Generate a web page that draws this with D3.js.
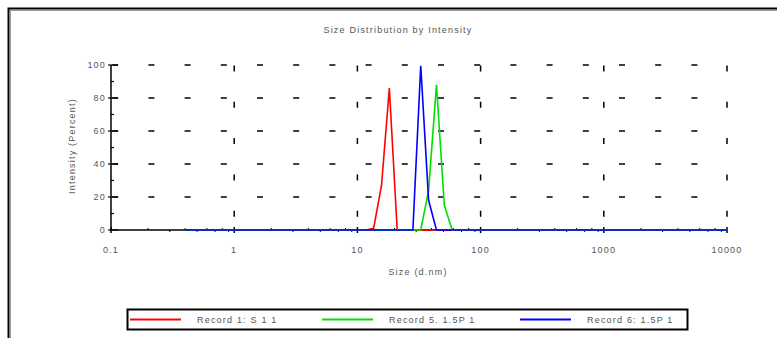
<!DOCTYPE html>
<html>
<head>
<meta charset="utf-8">
<script src="https://cdn.jsdelivr.net/npm/d3@7/dist/d3.min.js"></script>
<style>
  body { margin: 0; background: #fff; }
  text { font-family: "Liberation Sans", Arial, sans-serif; font-size: 9px; fill: #555; letter-spacing: 1.2px; }
</style>
</head>
<body>
<svg id="chart" width="777" height="338"></svg>
<script>
// size classes (d.nm) - standard 70 bins
var sizes = [0.4, 0.4632, 0.5365, 0.6213, 0.7195, 0.8332, 0.9649, 1.117, 1.294, 1.499,
  1.736, 2.01, 2.328, 2.696, 3.122, 3.615, 4.187, 4.849, 5.615, 6.503,
  7.531, 8.721, 10.1, 11.7, 13.54, 15.69, 18.17, 21.04, 24.36, 28.21,
  32.67, 37.84, 43.82, 50.75, 58.77, 68.06, 78.82, 91.28, 105.7, 122.4,
  141.8, 164.2, 190.1, 220.2, 255, 295.3, 342, 396.1, 458.7, 531.2,
  615.1, 712.4, 825, 955.4, 1106, 1281, 1484, 1718, 1990, 2305,
  2669, 3091, 3580, 4145, 4801, 5560, 6439, 7456, 8635, 10000];

// intensity (percent) per bin
var record1 = [0, 0, 0, 0, 0, 0, 0, 0, 0, 0,
  0, 0, 0, 0, 0, 0, 0, 0, 0, 0,
  0, 0, 0, 0, 1, 27, 86, 0, 0, 0,
  0, 0, 0, 0, 0, 0, 0, 0, 0, 0,
  0, 0, 0, 0, 0, 0, 0, 0, 0, 0,
  0, 0, 0, 0, 0, 0, 0, 0, 0, 0,
  0, 0, 0, 0, 0, 0, 0, 0, 0, 0];
var record5 = [0, 0, 0, 0, 0, 0, 0, 0, 0, 0,
  0, 0, 0, 0, 0, 0, 0, 0, 0, 0,
  0, 0, 0, 0, 0, 0, 0, 0, 0, 0,
  0, 24, 88, 15, 0, 0, 0, 0, 0, 0,
  0, 0, 0, 0, 0, 0, 0, 0, 0, 0,
  0, 0, 0, 0, 0, 0, 0, 0, 0, 0,
  0, 0, 0, 0, 0, 0, 0, 0, 0, 0];
var record6 = [0, 0, 0, 0, 0, 0, 0, 0, 0, 0,
  0, 0, 0, 0, 0, 0, 0, 0, 0, 0,
  0, 0, 0, 0, 0, 0, 0, 0, 0, 0,
  99.5, 18, 0, 0, 0, 0, 0, 0, 0, 0,
  0, 0, 0, 0, 0, 0, 0, 0, 0, 0,
  0, 0, 0, 0, 0, 0, 0, 0, 0, 0,
  0, 0, 0, 0, 0, 0, 0, 0, 0, 0];

var seriesNames = ["Record 1: S 1 1", "Record 5. 1.5P 1", "Record 6: 1.5P 1"];
var seriesColors = ["#ff0000", "#00e000", "#0000ff"];
var xTicks = [0.1, 1, 10, 100, 1000, 10000];
var xTickLabels = ["0.1", "1", "10", "100", "1000", "10000"];
var yTicks = [0, 20, 40, 60, 80, 100];

var svg = d3.select("#chart");

// outer frame (runs off the right / bottom edge)
svg.append("rect").attr("x", 8.5).attr("y", 8.5).attr("width", 820).attr("height", 400)
  .attr("fill", "none").attr("stroke", "#000").attr("stroke-width", 2);
svg.append("rect").attr("x", 10.5).attr("y", 10.5).attr("width", 820).attr("height", 400)
  .attr("fill", "none").attr("stroke", "#999").attr("stroke-width", 1);

var margin = {left: 111, top: 65},
    width = 727 - 111,
    height = 230 - 65;

var x = d3.scaleLog().domain([0.1, 10000]).range([0, width]);
var y = d3.scaleLinear().domain([0, 100]).range([height, 0]);

var g = svg.append("g").attr("transform", "translate(" + margin.left + "," + margin.top + ")");

// dashed grid
g.selectAll(".hgrid").data(yTicks.slice(1)).enter().append("line")
  .attr("x1", 0).attr("x2", width)
  .attr("y1", d => y(d)).attr("y2", d => y(d))
  .attr("stroke", "#000").attr("stroke-width", 1.5)
  .attr("stroke-dasharray", "6 30.2").attr("stroke-dashoffset", 35);
g.selectAll(".vgrid").data(xTicks.slice(1)).enter().append("line")
  .attr("x1", d => x(d)).attr("x2", d => x(d))
  .attr("y1", height).attr("y2", 0)
  .attr("stroke", "#000").attr("stroke-width", 1.5)
  .attr("stroke-dasharray", "6 30.3").attr("stroke-dashoffset", 23);

// axes lines
g.append("line").attr("x1", 0).attr("x2", 0).attr("y1", 0).attr("y2", height)
  .attr("stroke", "#000").attr("stroke-width", 1.5);
g.append("line").attr("x1", 0).attr("x2", width).attr("y1", height).attr("y2", height)
  .attr("stroke", "#000").attr("stroke-width", 1.5);

// y ticks
g.selectAll(".ymaj").data(yTicks).enter().append("line")
  .attr("x1", -3).attr("x2", 7).attr("y1", d => y(d)).attr("y2", d => y(d))
  .attr("stroke", "#000").attr("stroke-width", 1.2);
g.selectAll(".ymin").data([10, 30, 50, 70, 90]).enter().append("line")
  .attr("x1", 0).attr("x2", 3).attr("y1", d => y(d)).attr("y2", d => y(d))
  .attr("stroke", "#000").attr("stroke-width", 1.2);
g.selectAll(".ylab").data(yTicks).enter().append("text")
  .attr("x", -5).attr("y", d => y(d) + 3)
  .attr("text-anchor", "end")
  .text(d => d);

// x ticks (decades + minor)
var minor = [];
for (var dec = 0.1; dec < 10000; dec *= 10) {
  for (var m = 2; m < 10; m++) minor.push(dec * m);
}
g.selectAll(".xmin").data(minor).enter().append("line")
  .attr("x1", d => x(d)).attr("x2", d => x(d))
  .attr("y1", (d, i) => height + (i % 2 ? 0 : -2)).attr("y2", (d, i) => height + (i % 2 ? 2 : 0))
  .attr("stroke", "#000").attr("stroke-width", 1);
g.selectAll(".xmaj").data(xTicks).enter().append("line")
  .attr("x1", d => x(d)).attr("x2", d => x(d))
  .attr("y1", height - 3).attr("y2", height + 3)
  .attr("stroke", "#000").attr("stroke-width", 1.5);
g.selectAll(".xlab").data(xTicks).enter().append("text")
  .attr("x", d => x(d)).attr("y", height + 23)
  .attr("text-anchor", "middle")
  .text((d, i) => xTickLabels[i]);

// the three records, drawn red, green, blue so blue ends on top
var line = d3.line()
  .x(d => x(d[0]))
  .y(d => y(d[1]));
[record1, record5, record6].forEach(function(vals, k) {
  g.append("path")
    .datum(sizes.map((s, i) => [s, vals[i]]))
    .attr("fill", "none")
    .attr("stroke", seriesColors[k])
    .attr("stroke-width", 1.6)
    .attr("d", line);
});

// titles
svg.append("text").attr("x", 398).attr("y", 33).attr("text-anchor", "middle")
  .text("Size Distribution by Intensity");
svg.append("text").attr("x", 418).attr("y", 275).attr("text-anchor", "middle")
  .text("Size (d.nm)");
svg.append("text").attr("transform", "translate(75,146) rotate(-90)")
  .attr("text-anchor", "middle")
  .text("Intensity (Percent)");

// legend
var legend = svg.append("g");
legend.append("rect").attr("x", 127.5).attr("y", 309.5).attr("width", 560).attr("height", 20)
  .attr("fill", "none").attr("stroke", "#000").attr("stroke-width", 2);
var legX = [130, 322, 520];
seriesNames.forEach(function(name, k) {
  legend.append("line").attr("x1", legX[k]).attr("x2", legX[k] + 51)
    .attr("y1", 319.5).attr("y2", 319.5)
    .attr("stroke", seriesColors[k]).attr("stroke-width", 2);
  legend.append("text").attr("x", legX[k] + 67).attr("y", 323)
    .text(name);
});
</script>
</body>
</html>
